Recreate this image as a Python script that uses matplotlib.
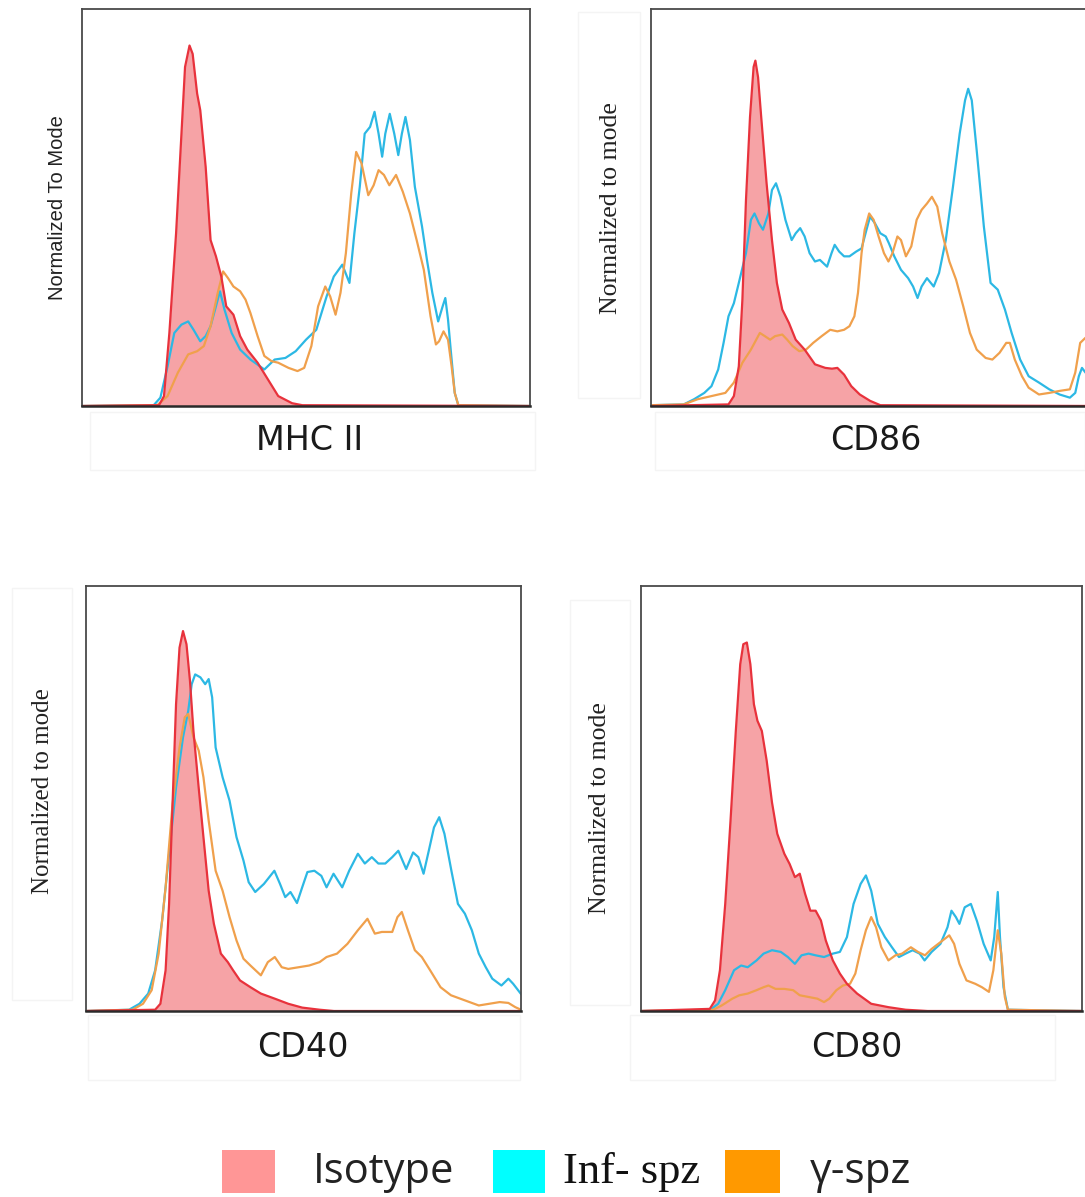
import matplotlib
matplotlib.use("Agg")
import matplotlib.pyplot as plt
from matplotlib.patches import Rectangle

# x = fluorescence channel (0-100 across the plot), y = % of mode (0-100 of plot height)
mhc_iso = [(0, 0), (17.2, 0.2), (18.3, 2.5), (19.5, 18.4), (21.0, 43.5), (22.2, 68.6), (23.0, 85.4),
           (24.0, 90.8), (24.7, 88.7), (25.7, 78.7), (26.4, 74.5), (27.6, 60.3), (28.7, 41.8),
           (29.9, 37.7), (31.1, 32.6), (32.2, 25.1), (33.8, 23.0), (35.3, 17.6), (36.9, 14.2),
           (39.2, 10.9), (41.5, 6.7), (43.8, 2.5), (46.9, 0.7), (49.2, 0.2), (100, 0)]
mhc_inf = [(0, 0), (16.0, 0.2), (17.5, 2.1), (19.1, 10.0), (20.6, 18.4), (22.2, 20.5), (23.7, 21.3),
           (24.9, 19.2), (26.4, 16.3), (27.6, 17.6), (28.7, 20.1), (29.9, 25.1), (30.8, 28.9),
           (31.8, 24.3), (33.4, 18.4), (35.3, 14.2), (37.6, 11.7), (40.7, 9.2), (43.0, 11.7),
           (45.4, 12.1), (47.7, 13.8), (50.0, 16.7), (52.3, 19.2), (54.6, 27.6), (56.2, 32.6),
           (58.1, 35.6), (59.7, 31.0), (60.8, 43.5), (62.0, 55.2), (63.1, 68.6), (64.3, 70.3),
           (65.3, 74.1), (66.2, 68.6), (67.0, 62.8), (67.7, 68.6), (68.7, 73.6), (69.7, 68.6),
           (70.6, 63.2), (71.4, 68.6), (72.2, 72.8), (73.2, 67.0), (74.3, 55.2), (75.9, 45.2),
           (77.0, 36.8), (78.2, 28.5), (79.5, 21.3), (80.5, 25.1), (81.1, 27.2), (81.7, 21.8),
           (82.3, 14.2), (83.2, 3.3), (84.0, 0.2), (100, 0)]
mhc_gam = [(0, 0), (16.8, 0.2), (19.1, 2.5), (21.4, 8.4), (23.7, 13.0), (25.7, 13.8), (27.2, 15.1),
           (28.7, 20.1), (30.3, 28.5), (31.5, 33.9), (32.6, 32.2), (33.8, 30.1), (35.3, 28.9),
           (36.5, 26.8), (37.6, 23.4), (39.2, 17.6), (40.7, 12.6), (42.3, 11.3), (43.8, 10.9),
           (46.1, 9.6), (48.1, 8.8), (49.6, 9.6), (51.2, 15.1), (52.7, 25.1), (54.3, 30.1),
           (55.4, 27.6), (56.6, 23.0), (57.7, 28.5), (58.9, 38.5), (60.1, 53.6), (61.2, 64.0),
           (62.4, 61.1), (63.9, 53.1), (65.1, 55.6), (66.2, 59.4), (67.4, 58.2), (68.6, 55.6),
           (70.1, 58.2), (71.6, 54.0), (73.2, 48.5), (74.7, 41.8), (76.3, 34.3), (77.8, 22.6),
           (79.0, 15.5), (79.7, 16.3), (80.7, 18.8), (81.7, 16.7), (82.5, 10.0), (83.2, 3.3),
           (84.0, 0.2), (100, 0)]

cd86_iso = [(0, 0), (17.3, 0.4), (18.5, 2.5), (19.6, 10.0), (20.4, 26.8), (21.2, 51.9), (22.1, 72.8),
            (22.9, 85.4), (23.3, 87.0), (23.9, 82.8), (24.6, 72.8), (25.8, 56.1), (27.0, 41.8),
            (28.1, 31.0), (29.3, 24.3), (30.8, 20.9), (32.3, 16.7), (34.3, 14.2), (36.6, 10.5),
            (38.9, 9.6), (40.4, 9.4), (41.6, 9.6), (43.1, 7.9), (44.7, 5.0), (46.6, 2.9),
            (48.9, 1.3), (51.2, 0.2), (100, 0)]
cd86_inf = [(0, 0.2), (7.3, 0.4), (9.6, 1.7), (11.9, 3.3), (13.5, 5.0), (15.0, 9.2), (16.2, 15.9),
            (17.3, 22.6), (18.5, 25.9), (19.6, 31.0), (21.2, 38.5), (22.3, 46.9), (23.1, 48.5),
            (24.1, 46.0), (25.0, 44.4), (26.2, 48.5), (27.0, 54.4), (27.9, 56.1), (28.9, 52.7),
            (30.0, 46.9), (31.4, 41.8), (32.3, 43.5), (33.3, 44.8), (34.3, 42.7), (35.4, 38.5),
            (36.6, 36.4), (37.7, 36.8), (39.3, 35.1), (40.3, 38.5), (41.0, 40.6), (42.0, 38.9),
            (43.1, 37.7), (44.3, 37.7), (45.8, 38.9), (47.0, 39.7), (48.1, 44.4), (48.9, 47.7),
            (50.0, 46.0), (51.2, 43.5), (52.4, 42.7), (53.1, 41.0), (54.3, 37.7), (55.8, 34.3),
            (57.4, 32.2), (58.5, 30.1), (59.5, 27.2), (60.4, 30.1), (61.6, 32.2), (63.1, 30.1),
            (64.3, 33.5), (65.8, 41.8), (67.4, 55.2), (68.9, 68.6), (70.1, 77.0), (70.8, 79.9),
            (71.6, 77.0), (72.7, 64.4), (74.3, 45.2), (75.8, 31.0), (77.4, 29.3), (79.0, 24.3),
            (80.5, 18.4), (82.4, 11.7), (84.3, 7.5), (86.6, 5.9), (88.9, 4.2), (91.2, 2.9),
            (93.5, 2.1), (94.7, 3.3), (95.5, 7.5), (96.2, 9.6), (97.0, 8.4), (99.0, 6.0), (100, 4.0)]
cd86_gam = [(0, 0.2), (7.3, 0.4), (10.4, 1.7), (13.5, 2.5), (16.6, 3.3), (18.5, 5.9), (20.4, 10.9),
            (22.3, 14.2), (24.3, 18.4), (25.4, 17.6), (26.6, 16.7), (27.7, 17.6), (29.3, 18.0),
            (30.4, 16.7), (31.6, 15.1), (33.1, 13.8), (34.6, 14.2), (36.2, 15.9), (38.1, 17.6),
            (40.0, 19.2), (41.6, 18.8), (43.1, 19.2), (44.3, 20.1), (45.4, 22.6), (46.2, 28.5),
            (47.0, 38.5), (47.7, 44.4), (48.7, 48.5), (49.7, 46.9), (50.8, 42.7), (52.0, 38.5),
            (53.0, 36.4), (53.9, 38.5), (55.0, 42.7), (55.8, 41.8), (56.9, 37.7), (58.1, 40.2),
            (59.3, 46.9), (60.4, 49.4), (61.6, 51.0), (62.7, 52.7), (63.9, 50.2), (65.0, 43.5),
            (66.6, 36.4), (68.1, 31.8), (69.7, 25.1), (71.2, 18.4), (72.7, 14.2), (74.7, 12.1),
            (76.2, 11.7), (77.8, 13.4), (79.3, 15.9), (80.1, 15.9), (81.2, 11.7), (82.8, 7.5),
            (84.3, 4.6), (86.6, 2.9), (88.9, 3.3), (91.2, 3.8), (93.5, 4.2), (94.7, 8.4),
            (95.8, 15.9), (97.0, 17.2), (99.0, 15.0), (100, 12.0)]

cd40_iso = [(0, 0), (15.9, 0.3), (17.1, 1.7), (18.3, 9.6), (19.1, 25.2), (19.9, 48.7), (20.7, 72.2),
            (21.5, 85.5), (22.3, 89.4), (23.1, 86.3), (23.9, 77.7), (24.7, 65.9), (25.9, 52.6),
            (27.0, 40.9), (28.2, 28.3), (29.4, 20.5), (31.0, 13.5), (32.6, 11.5), (33.8, 9.6),
            (35.4, 7.2), (37.8, 5.6), (40.2, 4.1), (43.4, 2.9), (46.5, 1.7), (49.7, 0.8),
            (53.7, 0.3), (57.0, 0), (100, 0)]
cd40_inf = [(0, 0), (9.9, 0.3), (12.3, 1.7), (14.3, 4.1), (15.9, 9.6), (17.5, 21.3), (19.1, 37.0),
            (20.7, 52.6), (22.3, 64.4), (23.5, 70.6), (24.3, 76.9), (25.1, 79.2), (26.3, 78.5),
            (27.4, 76.9), (28.2, 78.1), (29.0, 73.8), (29.8, 62.0), (31.4, 55.0), (33.0, 49.5),
            (34.6, 40.9), (36.2, 35.4), (37.4, 30.3), (38.9, 28.0), (40.9, 29.9), (43.3, 33.0),
            (44.6, 29.9), (45.8, 26.8), (47.0, 28.0), (48.5, 25.4), (49.7, 29.1), (50.9, 32.7),
            (52.5, 33.0), (54.1, 31.8), (55.3, 29.1), (56.9, 32.3), (58.9, 29.1), (60.5, 33.0),
            (62.5, 37.0), (64.1, 34.7), (65.7, 36.2), (67.2, 34.7), (68.8, 34.7), (70.4, 36.2),
            (71.8, 37.7), (73.6, 33.4), (75.2, 37.3), (76.4, 36.2), (77.6, 32.3), (78.8, 37.7),
            (80.0, 43.2), (81.2, 45.6), (82.4, 41.7), (84.0, 33.0), (85.5, 25.2), (87.1, 22.9),
            (88.7, 19.0), (90.3, 13.5), (91.9, 10.3), (93.4, 7.6), (95.5, 6.0), (97.1, 7.6),
            (98.2, 6.4), (100, 4.0)]
cd40_gam = [(0, 0), (10.7, 0.3), (13.1, 1.7), (15.1, 4.9), (16.7, 13.5), (18.3, 29.1), (19.9, 48.7),
            (21.5, 62.0), (22.7, 69.1), (23.5, 69.9), (24.7, 64.4), (25.9, 61.3), (27.0, 55.0),
            (28.2, 44.8), (29.8, 33.0), (31.4, 28.3), (33.0, 22.1), (34.6, 16.6), (36.2, 12.3),
            (37.8, 10.7), (40.2, 8.4), (41.8, 11.5), (43.4, 12.7), (45.0, 10.3), (46.5, 9.9),
            (48.9, 10.3), (51.3, 10.7), (53.7, 11.5), (55.3, 12.7), (57.7, 13.5), (60.1, 15.8),
            (62.5, 19.0), (64.7, 21.7), (66.4, 18.2), (68.0, 18.6), (70.4, 18.6), (71.6, 22.1),
            (72.6, 23.3), (74.0, 19.0), (75.6, 14.3), (77.2, 12.7), (79.1, 9.6), (81.5, 5.6),
            (83.9, 3.7), (87.1, 2.5), (90.3, 1.3), (92.7, 1.7), (95.1, 2.1), (97.1, 1.9),
            (98.7, 0.9), (100, 0.3)]

cd80_iso = [(0, 0), (15.6, 0.5), (16.8, 2.5), (17.9, 9.6), (19.1, 25.2), (20.3, 44.8), (21.5, 65.9),
            (22.5, 81.6), (23.2, 86.3), (24.0, 86.7), (24.8, 81.6), (25.6, 72.2), (26.4, 68.3),
            (27.4, 65.9), (28.5, 58.9), (29.7, 49.1), (30.9, 41.7), (32.5, 37.0), (33.7, 34.6),
            (34.9, 31.5), (36.0, 32.3), (37.2, 27.6), (38.4, 23.6), (39.6, 23.6), (40.8, 21.3),
            (41.9, 16.6), (43.5, 11.9), (45.1, 8.8), (46.7, 6.4), (49.0, 4.1), (52.2, 1.7),
            (56.1, 0.9), (60.0, 0.3), (65.0, 0), (100, 0)]
cd80_inf = [(0, 0), (15.6, 0.2), (17.5, 1.7), (19.1, 4.9), (21.1, 9.6), (22.7, 10.7), (24.2, 10.3),
            (26.2, 11.9), (27.8, 13.5), (29.7, 14.3), (31.7, 13.9), (33.3, 12.7), (34.9, 11.1),
            (36.4, 13.1), (38.0, 13.5), (39.6, 13.1), (41.5, 12.7), (43.5, 13.5), (45.1, 13.9),
            (46.7, 17.4), (48.2, 25.2), (49.8, 29.9), (51.0, 31.9), (52.2, 28.3), (53.7, 20.5),
            (55.3, 17.4), (56.9, 15.0), (58.5, 12.7), (60.0, 13.5), (61.6, 14.3), (63.2, 13.5),
            (64.3, 11.9), (65.9, 13.9), (67.9, 15.8), (69.5, 19.7), (70.4, 23.6), (71.4, 22.1),
            (72.2, 20.5), (73.4, 24.4), (74.8, 25.2), (76.2, 21.1), (77.7, 15.8), (79.3, 11.9),
            (80.1, 17.4), (80.9, 28.0), (81.4, 17.4), (82.2, 5.6), (83.2, 0.3), (100, 0)]
cd80_gam = [(0, 0), (16.4, 0.3), (18.3, 1.3), (20.7, 2.9), (22.3, 3.7), (24.2, 4.1), (26.2, 4.9),
            (27.8, 5.6), (28.9, 6.0), (30.5, 5.2), (32.5, 5.2), (34.5, 4.9), (36.0, 3.7),
            (38.0, 3.3), (40.0, 2.9), (41.5, 2.1), (42.7, 2.9), (44.3, 4.9), (45.8, 6.0),
            (47.4, 6.4), (48.6, 8.8), (49.8, 14.3), (51.0, 19.0), (52.2, 22.1), (53.3, 19.7),
            (54.5, 15.0), (56.1, 11.9), (57.7, 13.1), (59.2, 13.5), (61.2, 15.0), (62.8, 13.9),
            (64.4, 13.1), (65.9, 14.6), (67.9, 16.2), (69.9, 17.8), (71.0, 15.8), (72.2, 11.1),
            (73.8, 7.2), (75.8, 6.4), (77.3, 5.6), (78.9, 4.5), (79.9, 9.6), (80.9, 19.0),
            (81.7, 13.5), (82.5, 3.3), (83.2, 0.3), (100, 0)]

markers = ["MHC II", "CD86", "CD40", "CD80"]
ylabels = ["Normalized To Mode", "Normalized to mode", "Normalized to mode", "Normalized to mode"]
legend_labels = ["Isotype", "Inf- spz", "γ-spz"]

RED = "#e8323c"
PINK = "#f6a3a6"
CYAN = "#2cb8e4"
ORANGE = "#f0a04c"

W, H = 1085, 1197
fig = plt.figure(figsize=(W / 100, H / 100), dpi=100)


def px_box(l, t, r, b):
    return [l / W, 1 - b / H, (r - l) / W, (b - t) / H]


boxes = [px_box(82, 9, 530, 406), px_box(651, 9, 1099, 406),
         px_box(86, 586, 521, 1011), px_box(641, 586, 1082, 1011)]
panels = [(mhc_iso, mhc_inf, mhc_gam), (cd86_iso, cd86_inf, cd86_gam),
          (cd40_iso, cd40_inf, cd40_gam), (cd80_iso, cd80_inf, cd80_gam)]
ylab_pos = [(-0.054, 0.499), (-0.089, 0.499), (-0.099, 0.518), (-0.093, 0.478)]
ylab_font = [dict(family=["Liberation Sans Narrow", "Liberation Sans"], size=14.5),
             dict(family="Liberation Serif", size=18.5),
             dict(family="Liberation Serif", size=18),
             dict(family="Liberation Serif", size=18.5)]
xlab_y = [-0.086, -0.086, -0.087, -0.087]
xlab_x = [0.509, 0.502, 0.499, 0.49]

# faint frames left around the labels in the source figure
faint = [(90, 412, 535, 470), (655, 412, 1085, 470), (578, 12, 640, 398),
         (12, 588, 72, 1000), (88, 1015, 520, 1080), (570, 600, 630, 1005), (630, 1015, 1055, 1080)]
for l, t, r, b in faint:
    fig.patches.append(Rectangle((l / W, 1 - b / H), (r - l) / W, (b - t) / H,
                                 transform=fig.transFigure, fill=False,
                                 edgecolor="#f4f4f4", lw=1.0))

for i, (iso, inf, gam) in enumerate(panels):
    ax = fig.add_axes(boxes[i])
    ix, iy = zip(*iso)
    ax.fill_between(ix, iy, 0, color=PINK, lw=0)
    for series, c in ((inf, CYAN), (gam, ORANGE)):
        sx, sy = zip(*series)
        ax.plot(sx, sy, color=c, lw=1.6, solid_joinstyle="round")
    ax.plot(ix, iy, color=RED, lw=1.6, solid_joinstyle="round")
    ax.set_xlim(0, 100)
    ax.set_ylim(0, 100)
    ax.set_xticks([])
    ax.set_yticks([])
    for s in ax.spines.values():
        s.set_color("#4a4a4a")
        s.set_linewidth(1.3)
    ax.spines["bottom"].set_color("#2a2a2a")
    ax.spines["bottom"].set_linewidth(1.8)
    ax.text(xlab_x[i], xlab_y[i], markers[i], transform=ax.transAxes, ha="center", va="center",
            fontsize=24, family="DejaVu Sans", color="#1a1a1a")
    ax.text(ylab_pos[i][0], ylab_pos[i][1], ylabels[i], transform=ax.transAxes, rotation=90,
            ha="center", va="center", color="#222222", **ylab_font[i])

# legend strip
sq = [(222, 1150, 275, 1193, "#ff9696"), (493, 1150, 545, 1193, "#00ffff"), (725, 1150, 780, 1193, "#ff9900")]
for l, t, r, b, c in sq:
    fig.patches.append(Rectangle((l / W, 1 - b / H), (r - l) / W, (b - t) / H,
                                 transform=fig.transFigure, color=c, lw=0))
ly = 1 - 1172 / H
fig.text(313 / W, ly, legend_labels[0], ha="left", va="center", fontsize=30, family="Open Sans",
         color="#222222")
fig.text(563 / W, ly, legend_labels[1], ha="left", va="center", fontsize=32, family="Liberation Serif",
         color="#111111")
fig.text(810 / W, ly, legend_labels[2], ha="left", va="center", fontsize=30.5, family="Open Sans",
         color="#222222")

fig.savefig("out.png", dpi=100, facecolor="white")
